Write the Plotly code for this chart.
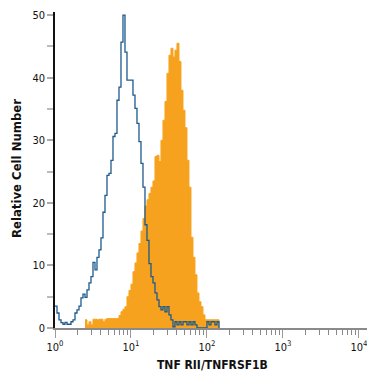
import plotly.graph_objects as go

# ---- data (log10 fluorescence bins, relative cell counts) ----
bin_width_decades = 0.02632
isotype_start_decade = 0.0
stained_start_decade = 0.3947

isotype_counts = [3.5, 2.4, 1.3, 0.85, 0.6, 0.9, 0.6, 0.6, 1.0, 1.3,
                  2.4, 2.9, 3.5, 4.8, 5.4, 4.9, 6.1, 7.2, 8.2, 10.5,
                  9.3, 11.3, 12.5, 14.4, 18.5, 21.2, 24.4, 24.7, 26.8, 30.6,
                  31.1, 36.4, 38.5, 45.7, 50.0, 44.1, 39.6, 39.6, 39.6, 37.2,
                  35.1, 32.7, 29.8, 26.3, 22.5, 16.5, 14.0, 10.3, 8.2, 7.2,
                  5.6, 4.5, 3.4, 2.9, 3.4, 2.6, 3.4, 2.1, 1.3, 0.2,
                  1.0, 0.5, 1.0, 0.5, 1.0, 1.0, 0.5, 1.0, 0.5, 1.0,
                  0.5, 0, 0, 0, 0, 0, 1.0, 0.5, 1.0, 1.0,
                  0.5, 1.0]

stained_counts = [1.3, 0.5, 1.0, 0.5, 1.4, 1.4, 1.3, 1.4, 1.4, 1.0,
                  1.4, 1.5, 1.5, 1.5, 1.5, 1.5, 1.5, 2.0, 2.6, 3.0,
                  3.4, 5.0, 6.0, 7.0, 9.0, 10.4, 12.0, 13.5, 15.5, 17.5,
                  19.5, 20.5, 21.5, 22.5, 23.5, 27.4, 27.6, 26.6, 30.0, 33.2,
                  36.2, 40.7, 43.6, 44.7, 43.3, 44.4, 45.5, 42.6, 38.0, 34.8,
                  32.0, 26.8, 22.5, 14.5, 11.3, 8.5, 5.6, 4.2, 3.4, 2.1,
                  1.3, 1.3, 1.3, 1.3, 1.3, 1.3, 1.3]

decade_ticks = [1, 10, 100, 1000, 10000]
decade_labels = ["10<sup>0</sup>", "10<sup>1</sup>", "10<sup>2</sup>",
                 "10<sup>3</sup>", "10<sup>4</sup>"]
y_ticks = [0, 10, 20, 30, 40, 50]
y_minor_ticks = [5, 15, 25, 35, 45]

x_title = "TNF RII/TNFRSF1B"
y_title = "Relative Cell Number"


def step_xy(start, counts):
    xs, ys = [], []
    for i, c in enumerate(counts):
        xs.append(10 ** (start + i * bin_width_decades))
        ys.append(c)
    xs.append(10 ** (start + len(counts) * bin_width_decades))
    ys.append(0)
    return xs, ys


sx, sy = step_xy(stained_start_decade, stained_counts)
ix, iy = step_xy(isotype_start_decade, isotype_counts)

minor_x = [m * d for d in [1, 10, 100, 1000] for m in range(2, 10)]

FONT = "Liberation Sans Narrow, DejaVu Sans Condensed, Arial Narrow, sans-serif"

fig = go.Figure()
fig.add_trace(go.Scatter(x=sx, y=sy, mode="lines", line_shape="hv",
                         fill="tozeroy", fillcolor="rgb(247,162,30)",
                         line=dict(color="rgb(247,162,30)", width=1),
                         showlegend=False, hoverinfo="skip"))
fig.add_trace(go.Scatter(x=ix, y=iy, mode="lines", line_shape="hv",
                         line=dict(color="#1d5a8e", width=1.3),
                         showlegend=False, hoverinfo="skip"))

# the page body adds an 8px offset, so the figure is 367px and shifted margins
fig.update_layout(
    width=367, height=367,
    margin=dict(l=47, r=7, t=4, b=47, autoexpand=False),
    paper_bgcolor="white", plot_bgcolor="white",
    font=dict(family=FONT, size=11, color="#111"),
    xaxis=dict(type="log", range=[0, 4.12], showgrid=False, zeroline=False,
               automargin=False,
               showline=True, linecolor="#8a8a8a", linewidth=1.5,
               tickmode="array", tickvals=decade_ticks, ticktext=decade_labels,
               ticks="outside", ticklen=8, tickcolor="#999", tickwidth=1,
               tickfont=dict(family=FONT, size=11, color="#111"),
               minor=dict(tickmode="array", tickvals=minor_x, ticks="outside",
                          ticklen=5, tickcolor="#888", tickwidth=1, showgrid=False)),
    yaxis=dict(range=[0, 50.5], showgrid=False, zeroline=False,
               automargin=False,
               showline=True, linecolor="#111", linewidth=1.5,
               tickmode="array", tickvals=y_ticks,
               ticks="outside", ticklen=6, tickcolor="#aaa", tickwidth=1.5,
               tickfont=dict(family=FONT, size=11, color="#111"),
               minor=dict(tickmode="array", tickvals=y_minor_ticks, ticks="outside",
                          ticklen=6, tickcolor="#bbb", tickwidth=1.5, showgrid=False)),
    annotations=[
        dict(text="<b>" + x_title + "</b>", xref="paper", yref="paper",
             x=0.502, y=-0.117, xanchor="center", yanchor="middle",
             showarrow=False, font=dict(family=FONT, size=12, color="#111")),
        dict(text="<b>" + y_title + "</b>", xref="paper", yref="paper",
             x=-0.125, y=0.506, xanchor="center", yanchor="middle",
             textangle=-90, showarrow=False,
             font=dict(family=FONT, size=13, color="#111")),
    ],
)

fig.write_html("out.html")
